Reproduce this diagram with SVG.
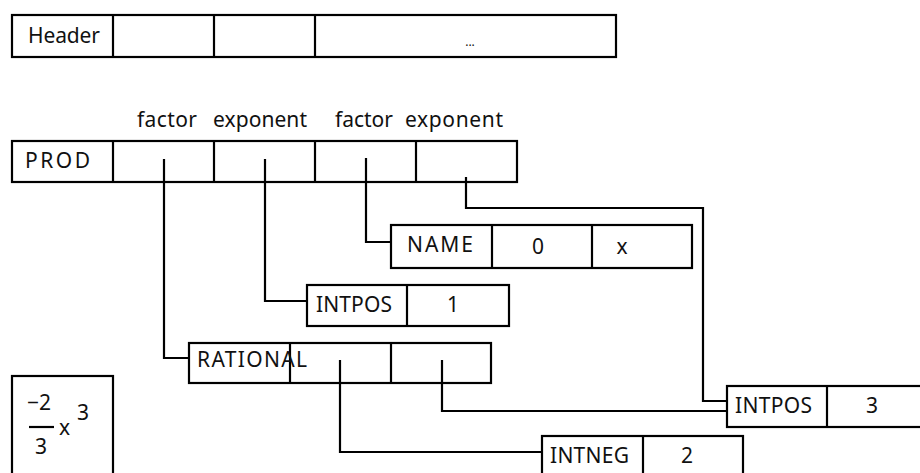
<svg xmlns="http://www.w3.org/2000/svg" width="920" height="473" viewBox="0 0 920 473">
<style>
  .box { fill: #fff; stroke: #000; stroke-width: 2.2; }
  .div { stroke: #000; stroke-width: 2.2; }
  .con { fill: none; stroke: #000; stroke-width: 2.2; }
  text { font-family: "Noto Sans", "DejaVu Sans", sans-serif; font-size: 21px; fill: #111; }
  .c { text-anchor: middle; }
</style>
<rect width="920" height="473" fill="#fff"/>

<g id="header">
  <rect class="box" x="12" y="15" width="604" height="42"/>
  <line class="div" x1="113" y1="15" x2="113" y2="57"/>
  <line class="div" x1="214" y1="15" x2="214" y2="57"/>
  <line class="div" x1="315" y1="15" x2="315" y2="57"/>
  <text x="28" y="43" textLength="72" lengthAdjust="spacing">Header</text>
  <text class="c" x="470" y="46" style="font-size:12px">...</text>
</g>

<g id="labels">
  <text x="137" y="127" textLength="60" lengthAdjust="spacing">factor</text>
  <text x="213" y="127" textLength="94" lengthAdjust="spacing">exponent</text>
  <text x="335" y="127" textLength="58" lengthAdjust="spacing">factor</text>
  <text x="405" y="127" textLength="98" lengthAdjust="spacing">exponent</text>
</g>

<g id="prod">
  <rect class="box" x="12" y="141" width="505" height="41"/>
  <line class="div" x1="113" y1="141" x2="113" y2="182"/>
  <line class="div" x1="214" y1="141" x2="214" y2="182"/>
  <line class="div" x1="315" y1="141" x2="315" y2="182"/>
  <line class="div" x1="416" y1="141" x2="416" y2="182"/>
  <text x="25" y="168" textLength="65" lengthAdjust="spacing">PROD</text>
</g>

<g id="connectors">
  <path class="con" d="M164,159 V358 H189"/>
  <path class="con" d="M265,159 V301 H307"/>
  <path class="con" d="M366,158 V242 H391"/>
  <path class="con" d="M466,177 V208 H703 V401 H727"/>
  <path class="con" d="M340,360 V452 H542"/>
  <path class="con" d="M442,360 V411 H727"/>
</g>

<g id="name">
  <rect class="box" x="391" y="225" width="301" height="43"/>
  <line class="div" x1="492" y1="225" x2="492" y2="268"/>
  <line class="div" x1="592" y1="225" x2="592" y2="268"/>
  <text x="407" y="252" textLength="66" lengthAdjust="spacing">NAME</text>
  <text class="c" x="538" y="254">0</text>
  <text class="c" x="622" y="254">x</text>
</g>

<g id="intpos1">
  <rect class="box" x="307" y="285" width="202" height="41"/>
  <line class="div" x1="407" y1="285" x2="407" y2="326"/>
  <text x="316" y="312" textLength="76" lengthAdjust="spacing">INTPOS</text>
  <text class="c" x="453" y="312">1</text>
</g>

<g id="rational">
  <rect class="box" x="189" y="343" width="302" height="40"/>
  <line class="div" x1="290" y1="343" x2="290" y2="383"/>
  <line class="div" x1="391" y1="343" x2="391" y2="383"/>
  <text x="197" y="367" textLength="110" lengthAdjust="spacing">RATIONAL</text>
  <line class="div" x1="340" y1="360" x2="340" y2="383"/>
  <line class="div" x1="442" y1="360" x2="442" y2="383"/>
</g>

<g id="intpos3">
  <rect class="box" x="727" y="386" width="200" height="41"/>
  <line class="div" x1="827" y1="386" x2="827" y2="427"/>
  <text x="735" y="413" textLength="77" lengthAdjust="spacing">INTPOS</text>
  <text class="c" x="872" y="413">3</text>
</g>

<g id="intneg">
  <rect class="box" x="542" y="436" width="201" height="50"/>
  <line class="div" x1="643" y1="436" x2="643" y2="486"/>
  <text x="550" y="463" textLength="79" lengthAdjust="spacing">INTNEG</text>
  <text class="c" x="687" y="463">2</text>
</g>

<g id="formula">
  <rect class="box" x="12" y="376" width="101" height="110"/>
  <text x="27" y="410">−2</text>
  <line class="div" x1="29" y1="427" x2="54" y2="427"/>
  <text class="c" x="41" y="454">3</text>
  <text x="59" y="435">x</text>
  <text x="77" y="420">3</text>
</g>
</svg>
